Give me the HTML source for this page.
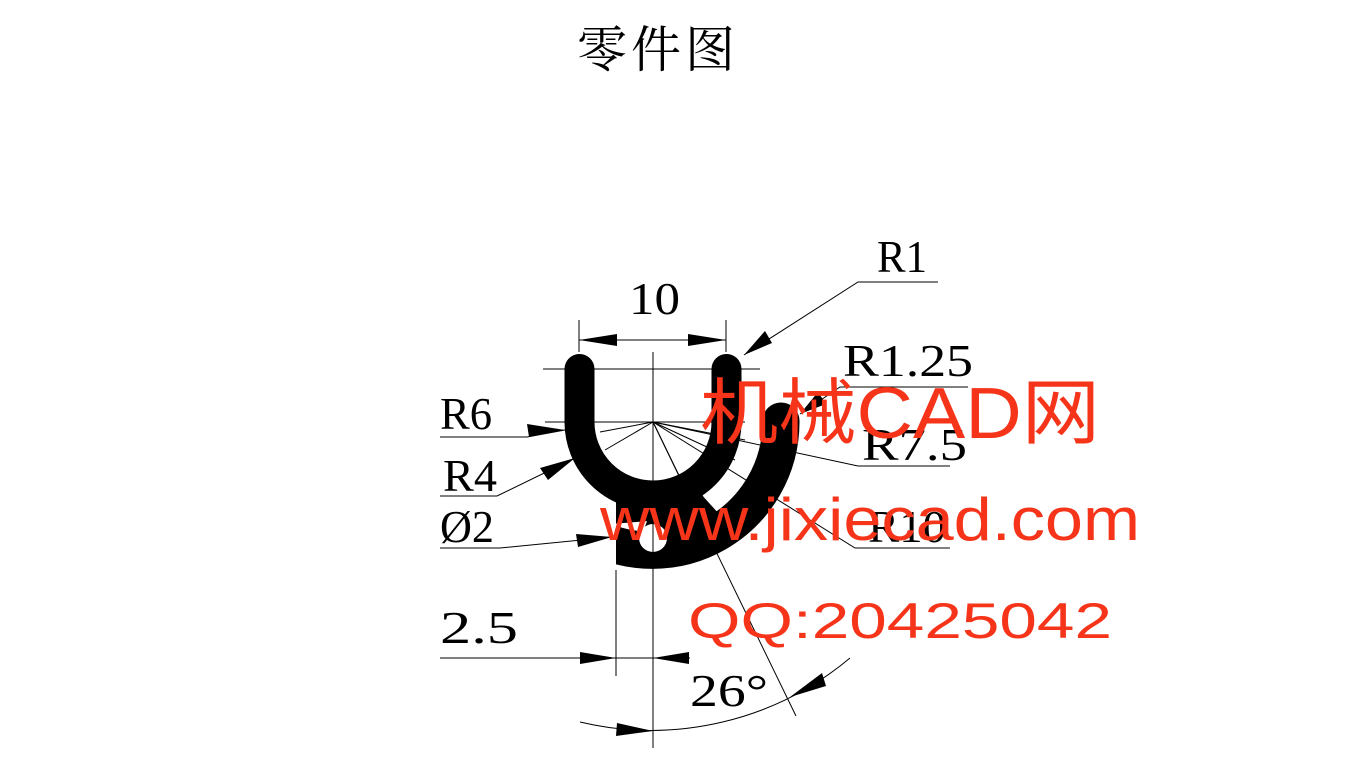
<!DOCTYPE html>
<html><head><meta charset="utf-8"><style>
html,body{margin:0;padding:0;background:#fff;width:1364px;height:766px;overflow:hidden}
svg{display:block}
.t{font-family:"Liberation Serif","Noto Serif CJK SC",serif;fill:#000}
.w{font-family:"Liberation Sans","Noto Sans CJK SC",sans-serif;fill:#f5341a}
</style></head><body>
<svg width="1364" height="766" viewBox="0 0 1364 766" xmlns="http://www.w3.org/2000/svg">
<defs><clipPath id="c"><rect x="616" y="0" width="400" height="766"/></clipPath></defs>
<text x="577" y="67" class="t" font-size="50" textLength="158">零件图</text>
<path d="M579.5,369 L579.5,422 A73.5,73.5 0 0 0 726.5,422 L726.5,369" fill="none" stroke="#000" stroke-width="30" stroke-linecap="round"/>
<g clip-path="url(#c)">
<path d="M588,533 A128.5,128.5 0 0 0 781,421" fill="none" stroke="#000" stroke-width="37"/>
<path d="M700,493 L720,515 L600,525 L620,490 Z" fill="#000"/>
<path d="M653,505 L700,490 L715,520 L640,540 Z" fill="#000"/>
</g>
<circle cx="781" cy="421" r="18.5" fill="#000"/>
<circle cx="653" cy="538" r="14" fill="#fff"/>
<g stroke="#000" stroke-width="1" fill="none">
<line x1="653" y1="352" x2="653" y2="748"/>
<line x1="543" y1="369" x2="760" y2="369"/>
<line x1="545" y1="422" x2="745" y2="422"/>
<line x1="579" y1="320" x2="579" y2="352"/>
<line x1="726" y1="320" x2="726" y2="352"/>
<line x1="579" y1="340" x2="726" y2="340"/>
<polyline points="744,355 858,282 938,282"/>
<polyline points="800,414 840,387 968,387"/>
<polyline points="653,422 858,466 950,466"/>
<polyline points="653,422 855,548 950,548"/>
<polyline points="440,437 527,437 565,430"/>
<polyline points="440,496 497,496 575,458"/>
<polyline points="440,548 500,548 612,537"/>
<line x1="653" y1="422" x2="600" y2="432"/>
<line x1="653" y1="422" x2="605" y2="450"/>
<line x1="653" y1="422" x2="680" y2="478"/>
<line x1="653" y1="422" x2="745" y2="440"/>
<line x1="653" y1="422" x2="735" y2="460"/>
<line x1="653" y1="422" x2="796" y2="716"/>
<line x1="616" y1="570" x2="616" y2="676"/>
<line x1="440" y1="658" x2="690" y2="658"/>
<path d="M580,722 A309,309 0 0 0 850,658"/>
</g>
<g fill="#000">
<polygon points="579,340 617,334 617,346"/>
<polygon points="726,340 688,334 688,346"/>
<polygon points="744,355 765,331 772,343"/>
<polygon points="800,414 818,392 826,404"/>
<polygon points="565,430 527,424 529,437"/>
<polygon points="575,458 548,480 540,468"/>
<polygon points="612,537 576,534 578,547"/>
<polygon points="616,658 580,652 580,664"/>
<polygon points="653,658 689,652 689,664"/>
<polygon points="653,731 617,723 616,736"/>
<polygon points="790,697 822,673 826,686"/>
</g>
<g class="t" font-size="46">
<text x="629" y="314" textLength="51" lengthAdjust="spacingAndGlyphs">10</text>
<text x="877" y="272" textLength="50" lengthAdjust="spacingAndGlyphs">R1</text>
<text x="843" y="376" textLength="130" lengthAdjust="spacingAndGlyphs">R1.25</text>
<text x="862" y="460" textLength="105" lengthAdjust="spacingAndGlyphs">R7.5</text>
<text x="868" y="542" textLength="78" lengthAdjust="spacingAndGlyphs">R10</text>
<text x="440" y="429" textLength="52" lengthAdjust="spacingAndGlyphs">R6</text>
<text x="443" y="491" textLength="54" lengthAdjust="spacingAndGlyphs">R4</text>
<text x="440" y="542" textLength="54" lengthAdjust="spacingAndGlyphs">Ø2</text>
<text x="440" y="643" textLength="78" lengthAdjust="spacingAndGlyphs">2.5</text>
<text x="690" y="706" textLength="78" lengthAdjust="spacingAndGlyphs">26°</text>
</g>
<text x="700" y="438" class="w" font-size="72" textLength="400" lengthAdjust="spacingAndGlyphs">机械CAD网</text>
<text x="600" y="540" class="w" font-size="60" textLength="540" lengthAdjust="spacingAndGlyphs">www.jixiecad.com</text>
<text x="688" y="638" class="w" font-size="50" textLength="424" lengthAdjust="spacingAndGlyphs">QQ:20425042</text>
</svg>
</body></html>
